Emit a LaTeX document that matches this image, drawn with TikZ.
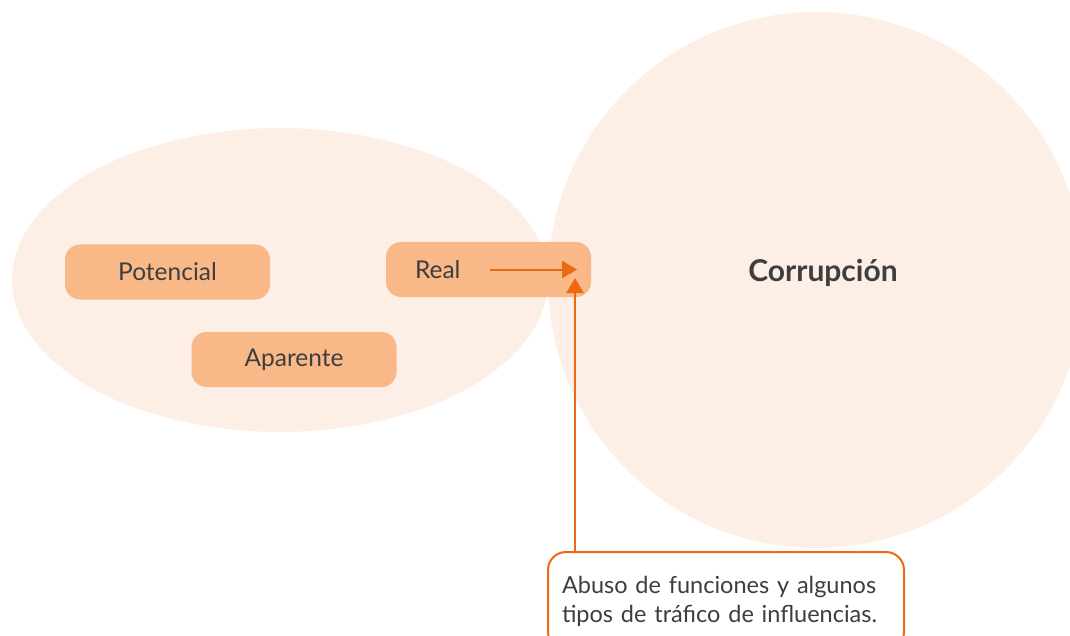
\documentclass[tikz,border=0pt]{standalone}
\usepackage{fontspec}
\setmainfont{Lato}
\usetikzlibrary{arrows.meta}
\definecolor{peachbg}{HTML}{FDEFE6}
\definecolor{peachbox}{HTML}{F8B888}
\definecolor{burnt}{HTML}{EC6A12}
\definecolor{inkgray}{HTML}{3E3E3E}
\begin{document}
\begin{tikzpicture}[x=1pt, y=-1pt, >={Triangle[length=15pt, width=17pt]},
  kind/.style={fill=peachbox, rounded corners=15pt, minimum width=205pt, minimum height=55pt, font=\fontsize{24.5}{28}\selectfont, text=inkgray},
  note/.style={draw=burnt, line width=2pt, fill=white, rounded corners=18pt, text width=328pt, inner xsep=14pt, minimum height=98pt, align=left, font=\fontsize{23.5}{29}\selectfont, text=inkgray},
  link/.style={->, draw=burnt, line width=2pt}]
  \useasboundingbox (0,0) rectangle (1070,636);
  \clip (0,0) rectangle (1070,636);
  % background areas
  \fill[peachbg] (280,280) ellipse [x radius=268, y radius=152];
  \fill[peachbg] (816,280) circle [radius=268];
  \node[font=\fontsize{30}{34}\selectfont\bfseries, text=inkgray] (corrupcion) at (823,273) {Corrupción};
  % kinds
  \node[kind] (potencial) at (167.5,272) {Potencial};
  \node[kind, text width=147pt, inner xsep=29pt, align=left] (real) at (488.5,269.5) {Real};
  \node[kind] (aparente) at (294,359.5) {Aparente};
  % note
  \node[note, anchor=north west] (abuso) at (547,551) {Abuso de funciones y algunos\\tipos de tráfico de influencias.};
  \coordinate (tip) at ([xshift=-14pt]real.east);
  \draw[link] ([xshift=-101pt]real.east) -- (tip);
  \draw[link] ([xshift=28pt]abuso.north west) -- ++(0,-273);
\end{tikzpicture}
\end{document}
